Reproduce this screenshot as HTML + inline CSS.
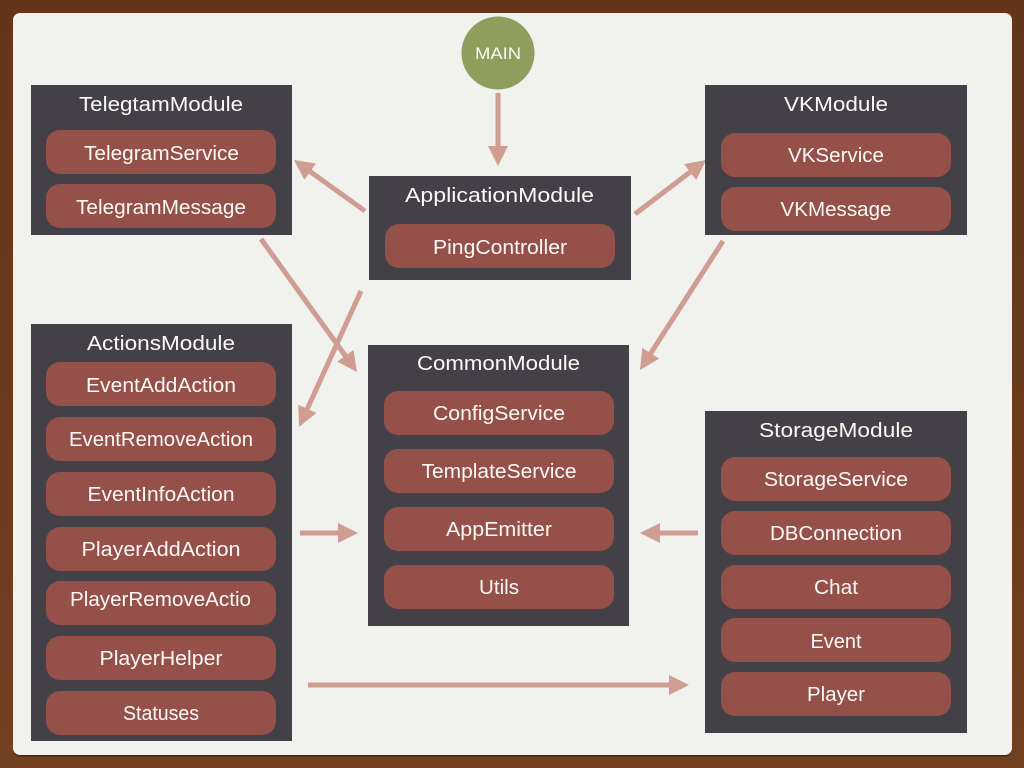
<!DOCTYPE html>
<html>
<head>
<meta charset="utf-8">
<style>
html,body{margin:0;padding:0;width:1024px;height:768px;overflow:hidden;background:#6b3b1f}
svg{display:block}
text{font-family:"Liberation Sans",sans-serif;fill:#fbf9f6;text-anchor:middle;font-size:20px}
.b{fill:#434147}
.p{fill:#95504a}
.a{stroke:#cf9d92;stroke-width:5;fill:none;marker-end:url(#h)}
</style>
</head>
<body>
<svg width="1024" height="768" viewBox="0 0 1024 768" xmlns="http://www.w3.org/2000/svg">
<defs>
<marker id="h" markerUnits="userSpaceOnUse" markerWidth="22" markerHeight="22" refX="2" refY="10" orient="auto">
<path d="M0 0L20 10L0 20Z" fill="#cf9d92"/>
</marker>
<linearGradient id="bg" x1="0" y1="0" x2="0" y2="1"><stop offset="0" stop-color="#643519"/><stop offset="1" stop-color="#71401f"/></linearGradient>
</defs>
<rect width="1024" height="768" fill="url(#bg)"/>
<rect x="13" y="14.500" width="999" height="742" rx="7" fill="#4a2710"/>
<rect x="13" y="13" width="999" height="742" rx="7" fill="#f1f1ee"/>

<line class="a" x1="498" y1="93" x2="498" y2="148"/>
<line class="a" x1="365" y1="211" x2="308.600" y2="170.500"/>
<line class="a" x1="635" y1="214" x2="691.700" y2="170.900"/>
<line class="a" x1="261" y1="239" x2="346.500" y2="357.400"/>
<line class="a" x1="361" y1="291" x2="306.500" y2="410.600"/>
<line class="a" x1="723" y1="241" x2="649.700" y2="354.900"/>
<line class="a" x1="300" y1="533" x2="340" y2="533"/>
<line class="a" x1="698" y1="533" x2="658" y2="533"/>
<line class="a" x1="308" y1="685" x2="671" y2="685"/>

<circle cx="498" cy="53" r="36.500" fill="#8f9e5c"/>
<text x="498" y="59" textLength="46" lengthAdjust="spacingAndGlyphs" style="font-size:17px">MAIN</text>

<rect class="b" x="31" y="85" width="261" height="150"/>
<text x="161" y="111" textLength="164" lengthAdjust="spacingAndGlyphs">TelegtamModule</text>
<rect class="p" x="46" y="130" width="230" height="44" rx="14"/>
<text x="161.500" y="160" textLength="155" lengthAdjust="spacingAndGlyphs">TelegramService</text>
<rect class="p" x="46" y="184" width="230" height="44" rx="14"/>
<text x="161" y="214" textLength="170" lengthAdjust="spacingAndGlyphs">TelegramMessage</text>

<rect class="b" x="369" y="176" width="262" height="104"/>
<text x="499.500" y="202" textLength="189" lengthAdjust="spacingAndGlyphs">ApplicationModule</text>
<rect class="p" x="385" y="224" width="230" height="44" rx="14"/>
<text x="500" y="254" textLength="134" lengthAdjust="spacingAndGlyphs">PingController</text>

<rect class="b" x="705" y="85" width="262" height="150"/>
<text x="836" y="111" textLength="104" lengthAdjust="spacingAndGlyphs">VKModule</text>
<rect class="p" x="721" y="133" width="230" height="44" rx="14"/>
<text x="836" y="162" textLength="96" lengthAdjust="spacingAndGlyphs">VKService</text>
<rect class="p" x="721" y="187" width="230" height="44" rx="14"/>
<text x="836" y="216" textLength="111" lengthAdjust="spacingAndGlyphs">VKMessage</text>

<rect class="b" x="31" y="324" width="261" height="417"/>
<text x="161" y="350" textLength="148" lengthAdjust="spacingAndGlyphs">ActionsModule</text>
<rect class="p" x="46" y="362" width="230" height="44" rx="14"/>
<text x="161" y="392" textLength="150" lengthAdjust="spacingAndGlyphs">EventAddAction</text>
<rect class="p" x="46" y="417" width="230" height="44" rx="14"/>
<text x="161" y="446" textLength="184" lengthAdjust="spacingAndGlyphs">EventRemoveAction</text>
<rect class="p" x="46" y="472" width="230" height="44" rx="14"/>
<text x="161" y="501" textLength="147" lengthAdjust="spacingAndGlyphs">EventInfoAction</text>
<rect class="p" x="46" y="527" width="230" height="44" rx="14"/>
<text x="161" y="556" textLength="159" lengthAdjust="spacingAndGlyphs">PlayerAddAction</text>
<rect class="p" x="46" y="581" width="230" height="44" rx="14"/>
<text x="160.500" y="606" textLength="181" lengthAdjust="spacingAndGlyphs">PlayerRemoveActio</text>
<rect class="p" x="46" y="636" width="230" height="44" rx="14"/>
<text x="161" y="665" textLength="123" lengthAdjust="spacingAndGlyphs">PlayerHelper</text>
<rect class="p" x="46" y="691" width="230" height="44" rx="14"/>
<text x="161" y="720" textLength="76" lengthAdjust="spacingAndGlyphs">Statuses</text>

<rect class="b" x="368" y="345" width="261" height="281"/>
<text x="498.500" y="370" textLength="163" lengthAdjust="spacingAndGlyphs">CommonModule</text>
<rect class="p" x="384" y="391" width="230" height="44" rx="14"/>
<text x="499" y="420" textLength="132" lengthAdjust="spacingAndGlyphs">ConfigService</text>
<rect class="p" x="384" y="449" width="230" height="44" rx="14"/>
<text x="499" y="478" textLength="155" lengthAdjust="spacingAndGlyphs">TemplateService</text>
<rect class="p" x="384" y="507" width="230" height="44" rx="14"/>
<text x="499" y="536" textLength="106" lengthAdjust="spacingAndGlyphs">AppEmitter</text>
<rect class="p" x="384" y="565" width="230" height="44" rx="14"/>
<text x="499" y="594" textLength="40" lengthAdjust="spacingAndGlyphs">Utils</text>

<rect class="b" x="705" y="411" width="262" height="322"/>
<text x="836" y="437" textLength="154" lengthAdjust="spacingAndGlyphs">StorageModule</text>
<rect class="p" x="721" y="457" width="230" height="44" rx="14"/>
<text x="836" y="486" textLength="144" lengthAdjust="spacingAndGlyphs">StorageService</text>
<rect class="p" x="721" y="511" width="230" height="44" rx="14"/>
<text x="836" y="540" textLength="132" lengthAdjust="spacingAndGlyphs">DBConnection</text>
<rect class="p" x="721" y="565" width="230" height="44" rx="14"/>
<text x="836" y="594" textLength="44" lengthAdjust="spacingAndGlyphs">Chat</text>
<rect class="p" x="721" y="618" width="230" height="44" rx="14"/>
<text x="836" y="648" textLength="51" lengthAdjust="spacingAndGlyphs">Event</text>
<rect class="p" x="721" y="672" width="230" height="44" rx="14"/>
<text x="836" y="701" textLength="58" lengthAdjust="spacingAndGlyphs">Player</text>
</svg>
</body>
</html>
